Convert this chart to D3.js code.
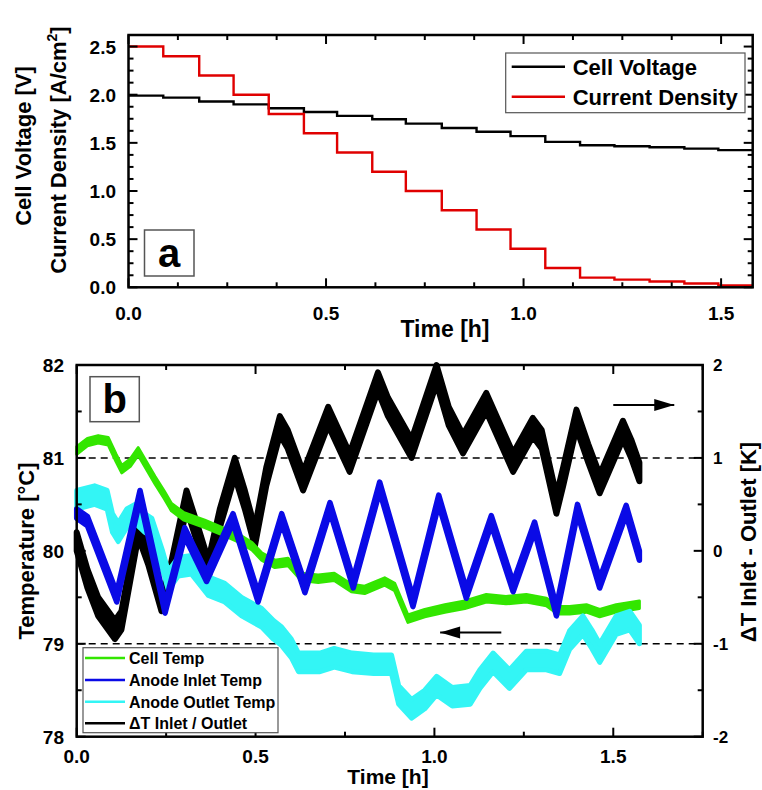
<!DOCTYPE html>
<html><head><meta charset="utf-8">
<script src="https://cdn.jsdelivr.net/npm/d3@7/dist/d3.min.js"></script>
<style>
body{margin:0;background:#fff;}
svg text{font-family:"Liberation Sans",Arial,sans-serif;font-weight:bold;fill:#000;}
</style></head>
<body><svg id="c" width="762" height="790"></svg>
<script>
// ---------- Panel a data ----------
const stepTimes = [0, 0.088, 0.179, 0.266, 0.355, 0.444, 0.528, 0.617, 0.702, 0.793, 0.881, 0.967, 1.055, 1.143, 1.23, 1.319, 1.407, 1.493];
const stepEnd = 1.58;
const currentDensity = [2.5, 2.4, 2.2, 2.0, 1.8, 1.6, 1.4, 1.2, 1.0, 0.8, 0.6, 0.4, 0.2, 0.1, 0.08, 0.06, 0.04, 0.02];
const cellVoltage = [1.99, 1.97, 1.93, 1.90, 1.86, 1.82, 1.78, 1.745, 1.70, 1.655, 1.615, 1.57, 1.51, 1.475, 1.465, 1.455, 1.44, 1.425];
const legendA = ["Cell Voltage", "Current Density"];
const xTicksA = [0, 0.5, 1.0, 1.5];
const yTicksA = [0, 0.5, 1.0, 1.5, 2.0, 2.5];

// ---------- Panel b data ----------
const cellTempT = [0, 0.03, 0.06, 0.088, 0.11, 0.126, 0.15, 0.172, 0.19, 0.219, 0.245, 0.265, 0.30, 0.358, 0.414, 0.461, 0.49, 0.517, 0.554, 0.591, 0.628, 0.675, 0.72, 0.768, 0.805, 0.861, 0.889, 0.926, 0.973, 1.029, 1.085, 1.145, 1.20, 1.257, 1.313, 1.345, 1.378, 1.425, 1.462, 1.508, 1.573];
const cellTemp  = [81.08, 81.17, 81.2, 81.18, 81.0, 80.88, 80.95, 81.07, 80.95, 80.76, 80.6, 80.47, 80.37, 80.29, 80.2, 80.12, 80.05, 79.94, 79.86, 79.88, 79.72, 79.7, 79.72, 79.6, 79.58, 79.67, 79.61, 79.27, 79.33, 79.38, 79.42, 79.49, 79.47, 79.49, 79.45, 79.36, 79.36, 79.38, 79.33, 79.38, 79.42];

const inletT = [0, 0.03, 0.112, 0.177, 0.247, 0.302, 0.363, 0.437, 0.507, 0.573, 0.638, 0.708, 0.773, 0.847, 0.94, 1.012, 1.089, 1.159, 1.22, 1.28, 1.341, 1.40, 1.462, 1.536, 1.573];
const inletTemp = [80.4, 80.32, 79.5, 80.6, 79.38, 80.2, 79.72, 80.35, 79.5, 80.35, 79.6, 80.47, 79.65, 80.69, 79.45, 80.55, 79.54, 80.33, 79.61, 80.26, 79.35, 80.45, 79.65, 80.44, 79.95];

const outletT = [0, 0.05, 0.085, 0.1, 0.116, 0.14, 0.163, 0.19, 0.21, 0.24, 0.256, 0.284, 0.321, 0.368, 0.414, 0.461, 0.517, 0.55, 0.573, 0.6, 0.62, 0.68, 0.72, 0.77, 0.83, 0.88, 0.90, 0.936, 0.973, 1.006, 1.05, 1.10, 1.127, 1.164, 1.21, 1.257, 1.313, 1.35, 1.378, 1.415, 1.44, 1.462, 1.508, 1.546, 1.573];
const outletTemp = [80.55, 80.6, 80.55, 80.3, 80.2, 80.35, 80.4, 80.3, 80.25, 79.9, 79.68, 79.83, 79.85, 79.62, 79.55, 79.4, 79.28, 79.15, 79.08, 78.95, 78.8, 78.8, 78.85, 78.8, 78.78, 78.78, 78.45, 78.3, 78.4, 78.55, 78.43, 78.45, 78.62, 78.8, 78.62, 78.82, 78.82, 78.78, 79.04, 79.2, 79.05, 78.9, 79.2, 79.25, 79.1];

const deltaTT = [0, 0.03, 0.06, 0.107, 0.125, 0.172, 0.2, 0.237, 0.26, 0.307, 0.34, 0.368, 0.40, 0.442, 0.47, 0.498, 0.53, 0.568, 0.59, 0.633, 0.703, 0.763, 0.842, 0.87, 0.936, 1.006, 1.04, 1.08, 1.145, 1.22, 1.275, 1.30, 1.341, 1.36, 1.397, 1.43, 1.462, 1.527, 1.55, 1.573];
const deltaT = [0.1, -0.3, -0.6, -0.85, -0.75, 0.25, -0.05, -0.55, -0.3, 0.55, 0.15, -0.2, 0.35, 0.9, 0.55, 0.15, 0.8, 1.35, 1.2, 0.75, 1.45, 0.95, 1.82, 1.55, 1.1, 1.9, 1.45, 1.15, 1.6, 0.95, 1.33, 1.2, 0.5, 0.8, 1.42, 1.05, 0.72, 1.3, 1.1, 0.85];

const legendB = ["Cell Temp", "Anode Inlet Temp", "Anode Outlet Temp", "\u0394T Inlet / Outlet"];
const xTicksB = [0, 0.5, 1.0, 1.5];
const yTicksB = [78, 79, 80, 81, 82];
const yTicksBR = [-2, -1, 0, 1, 2];
const dashLevels = [79, 81];

// ---------- drawing ----------
const svg = d3.select("#c");
const colGreen = "#33e600", colBlue = "#0a0ae6", colCyan = "#33f5f5";

function frame(g, x, y, xMinor, yMinor) {
  const [x0, x1] = x.range(), [y0, y1] = y.range();
  const lenMaj = 9, lenMin = 5;
  xMinor.forEach(v => {
    const isMaj = Math.abs(v / 0.5 - Math.round(v / 0.5)) < 1e-6;
    const L = isMaj ? lenMaj : lenMin;
    g.append("line").attr("x1", x(v)).attr("x2", x(v)).attr("y1", y0).attr("y2", y0 - L).attr("stroke", "#000").attr("stroke-width", 2);
    g.append("line").attr("x1", x(v)).attr("x2", x(v)).attr("y1", y1).attr("y2", y1 + L).attr("stroke", "#000").attr("stroke-width", 2);
  });
  yMinor.forEach(o => {
    const L = o.maj ? lenMaj : lenMin;
    g.append("line").attr("x1", x0).attr("x2", x0 + L).attr("y1", o.py).attr("y2", o.py).attr("stroke", "#000").attr("stroke-width", 2);
    g.append("line").attr("x1", x1).attr("x2", x1 - L).attr("y1", o.py).attr("y2", o.py).attr("stroke", "#000").attr("stroke-width", 2);
  });
  g.append("rect").attr("x", x0).attr("y", y1).attr("width", x1 - x0).attr("height", y0 - y1)
    .attr("fill", "none").attr("stroke", "#000").attr("stroke-width", 2.5);
}

// ===== Panel a =====
const xA = d3.scaleLinear().domain([0, 1.58]).range([128.5, 752.7]);
const yA = d3.scaleLinear().domain([0, 2.62]).range([287.3, 35]);
const gA = svg.append("g");

function stepData(vals) {
  const pts = [];
  vals.forEach((v, i) => {
    pts.push([stepTimes[i], v]);
    pts.push([i + 1 < stepTimes.length ? stepTimes[i + 1] : stepEnd, v]);
  });
  return pts;
}
const lineA = d3.line().x(d => xA(d[0])).y(d => yA(d[1]));
gA.append("path").attr("d", lineA(stepData(cellVoltage))).attr("fill", "none").attr("stroke", "#000").attr("stroke-width", 2.4);
gA.append("path").attr("d", lineA(stepData(currentDensity))).attr("fill", "none").attr("stroke", "#e00000").attr("stroke-width", 2.4);

const xMinorA = d3.range(0, 1.58 + 1e-9, 0.125);
const yMinorA = d3.range(0, 2.62, 0.125).map(v => ({py: yA(v), maj: Math.abs(v / 0.5 - Math.round(v / 0.5)) < 1e-6}));
frame(gA, xA, yA, xMinorA, yMinorA);

xTicksA.forEach(v => gA.append("text").attr("x", xA(v)).attr("y", 320).attr("text-anchor", "middle").attr("font-size", 19).text(d3.format(".1f")(v)));
yTicksA.forEach(v => gA.append("text").attr("x", 116).attr("y", yA(v) + 7).attr("text-anchor", "end").attr("font-size", 19).text(d3.format(".1f")(v)));
gA.append("text").attr("x", 445).attr("y", 337).attr("text-anchor", "middle").attr("font-size", 23).text("Time [h]");
gA.append("text").attr("transform", "translate(31,146) rotate(-90)").attr("text-anchor", "middle").attr("font-size", 22).text("Cell Voltage [V]");
const cd = gA.append("text").attr("transform", "translate(66,150) rotate(-90)").attr("text-anchor", "middle").attr("font-size", 22);
cd.append("tspan").text("Current Density [A/cm");
cd.append("tspan").attr("dy", -9).attr("font-size", 14).text("2");
cd.append("tspan").attr("dy", 9).text("]");

// legend a
gA.append("rect").attr("x", 505.7).attr("y", 53).attr("width", 239.3).attr("height", 59.7).attr("fill", "#fff").attr("stroke", "#555").attr("stroke-width", 1.2);
[["#000", 66.7], ["#e00000", 96.7]].forEach((c, i) => {
  gA.append("line").attr("x1", 511.7).attr("x2", 565).attr("y1", c[1]).attr("y2", c[1]).attr("stroke", c[0]).attr("stroke-width", 2.4);
  gA.append("text").attr("x", 572.7).attr("y", c[1] + 8).attr("font-size", 22).text(legendA[i]);
});
gA.append("rect").attr("x", 144.5).attr("y", 230).attr("width", 49.5).attr("height", 46).attr("fill", "#fff").attr("stroke", "#555").attr("stroke-width", 1.5);
gA.append("text").attr("x", 169).attr("y", 267).attr("text-anchor", "middle").attr("font-size", 40).text("a");

// ===== Panel b =====
const xB = d3.scaleLinear().domain([0, 1.75]).range([76.7, 702.7]);
const yB = d3.scaleLinear().domain([78, 82]).range([736.7, 365]);
const yBR = d3.scaleLinear().domain([-2, 2]).range([736.7, 365]);
const gB = svg.append("g");

dashLevels.forEach(v => gB.append("line").attr("x1", xB(0)).attr("x2", xB(1.75)).attr("y1", yB(v)).attr("y2", yB(v))
  .attr("stroke", "#000").attr("stroke-width", 1.6).attr("stroke-dasharray", "7,5"));

function band(ts, vs, ys, hw, sw, color) {
  const data = ts.map((t, i) => [t, vs[i]]);
  const area = d3.area().x(d => xB(d[0])).y0(d => ys(d[1] - hw)).y1(d => ys(d[1] + hw));
  gB.append("path").attr("d", area(data)).attr("fill", color).attr("stroke", color).attr("stroke-width", sw).attr("stroke-linejoin", "round");
}
band(deltaTT, deltaT, yBR, 0.1, 6, "#000");
band(cellTempT, cellTemp, yB, 0.04, 3, colGreen);
band(outletT, outletTemp, yB, 0.1, 5, colCyan);
band(inletT, inletTemp, yB, 0.05, 5.5, colBlue);

const xMinorB = d3.range(0, 1.75 + 1e-9, 0.25);
const yMinorB = d3.range(78, 82.001, 0.5).map(v => ({py: yB(v), maj: Math.abs(v - Math.round(v)) < 1e-6}));
frame(gB, xB, yB, xMinorB, yMinorB);

xTicksB.forEach(v => gB.append("text").attr("x", xB(v)).attr("y", 763).attr("text-anchor", "middle").attr("font-size", 19).text(d3.format(".1f")(v)));
yTicksB.forEach(v => gB.append("text").attr("x", 64).attr("y", yB(v) + 7).attr("text-anchor", "end").attr("font-size", 19).text(v));
yTicksBR.forEach(v => gB.append("text").attr("x", 713).attr("y", yBR(v) + 6).attr("text-anchor", "start").attr("font-size", 17).text(v));
gB.append("text").attr("x", 388).attr("y", 784).attr("text-anchor", "middle").attr("font-size", 21).text("Time [h]");
gB.append("text").attr("transform", "translate(34,551) rotate(-90)").attr("text-anchor", "middle").attr("font-size", 22).text("Temperature [\u00B0C]");
gB.append("text").attr("transform", "translate(756,542) rotate(-90)").attr("text-anchor", "middle").attr("font-size", 22).text("\u0394T Inlet - Outlet [K]");

function arrow(xs, xe, yv) {
  gB.append("line").attr("x1", xs).attr("x2", xe).attr("y1", yv).attr("y2", yv).attr("stroke", "#000").attr("stroke-width", 2);
  const dir = Math.sign(xe - xs);
  gB.append("path").attr("d", `M${xe},${yv} L${xe - dir * 20},${yv - 6} L${xe - dir * 20},${yv + 6} Z`).attr("fill", "#000");
}
arrow(xB(1.5), xB(1.6705), yBR(1.57));
arrow(xB(1.187), xB(1.016), yBR(-0.88));

gB.append("rect").attr("x", 83).attr("y", 647.7).attr("width", 195).attr("height", 85).attr("fill", "#fff").attr("stroke", "#555").attr("stroke-width", 1.2);
[[colGreen, 658], [colBlue, 680], [colCyan, 701.7], ["#000", 723.3]].forEach((c, i) => {
  gB.append("line").attr("x1", 85).attr("x2", 125).attr("y1", c[1]).attr("y2", c[1]).attr("stroke", c[0]).attr("stroke-width", 2.5);
  gB.append("text").attr("x", 129).attr("y", c[1] + 6).attr("font-size", 16).text(legendB[i]);
});
gB.append("rect").attr("x", 90).attr("y", 376.7).attr("width", 49.3).attr("height", 45).attr("fill", "#fff").attr("stroke", "#555").attr("stroke-width", 1.5);
gB.append("text").attr("x", 114.7).attr("y", 413).attr("text-anchor", "middle").attr("font-size", 40).text("b");
</script></body></html>
